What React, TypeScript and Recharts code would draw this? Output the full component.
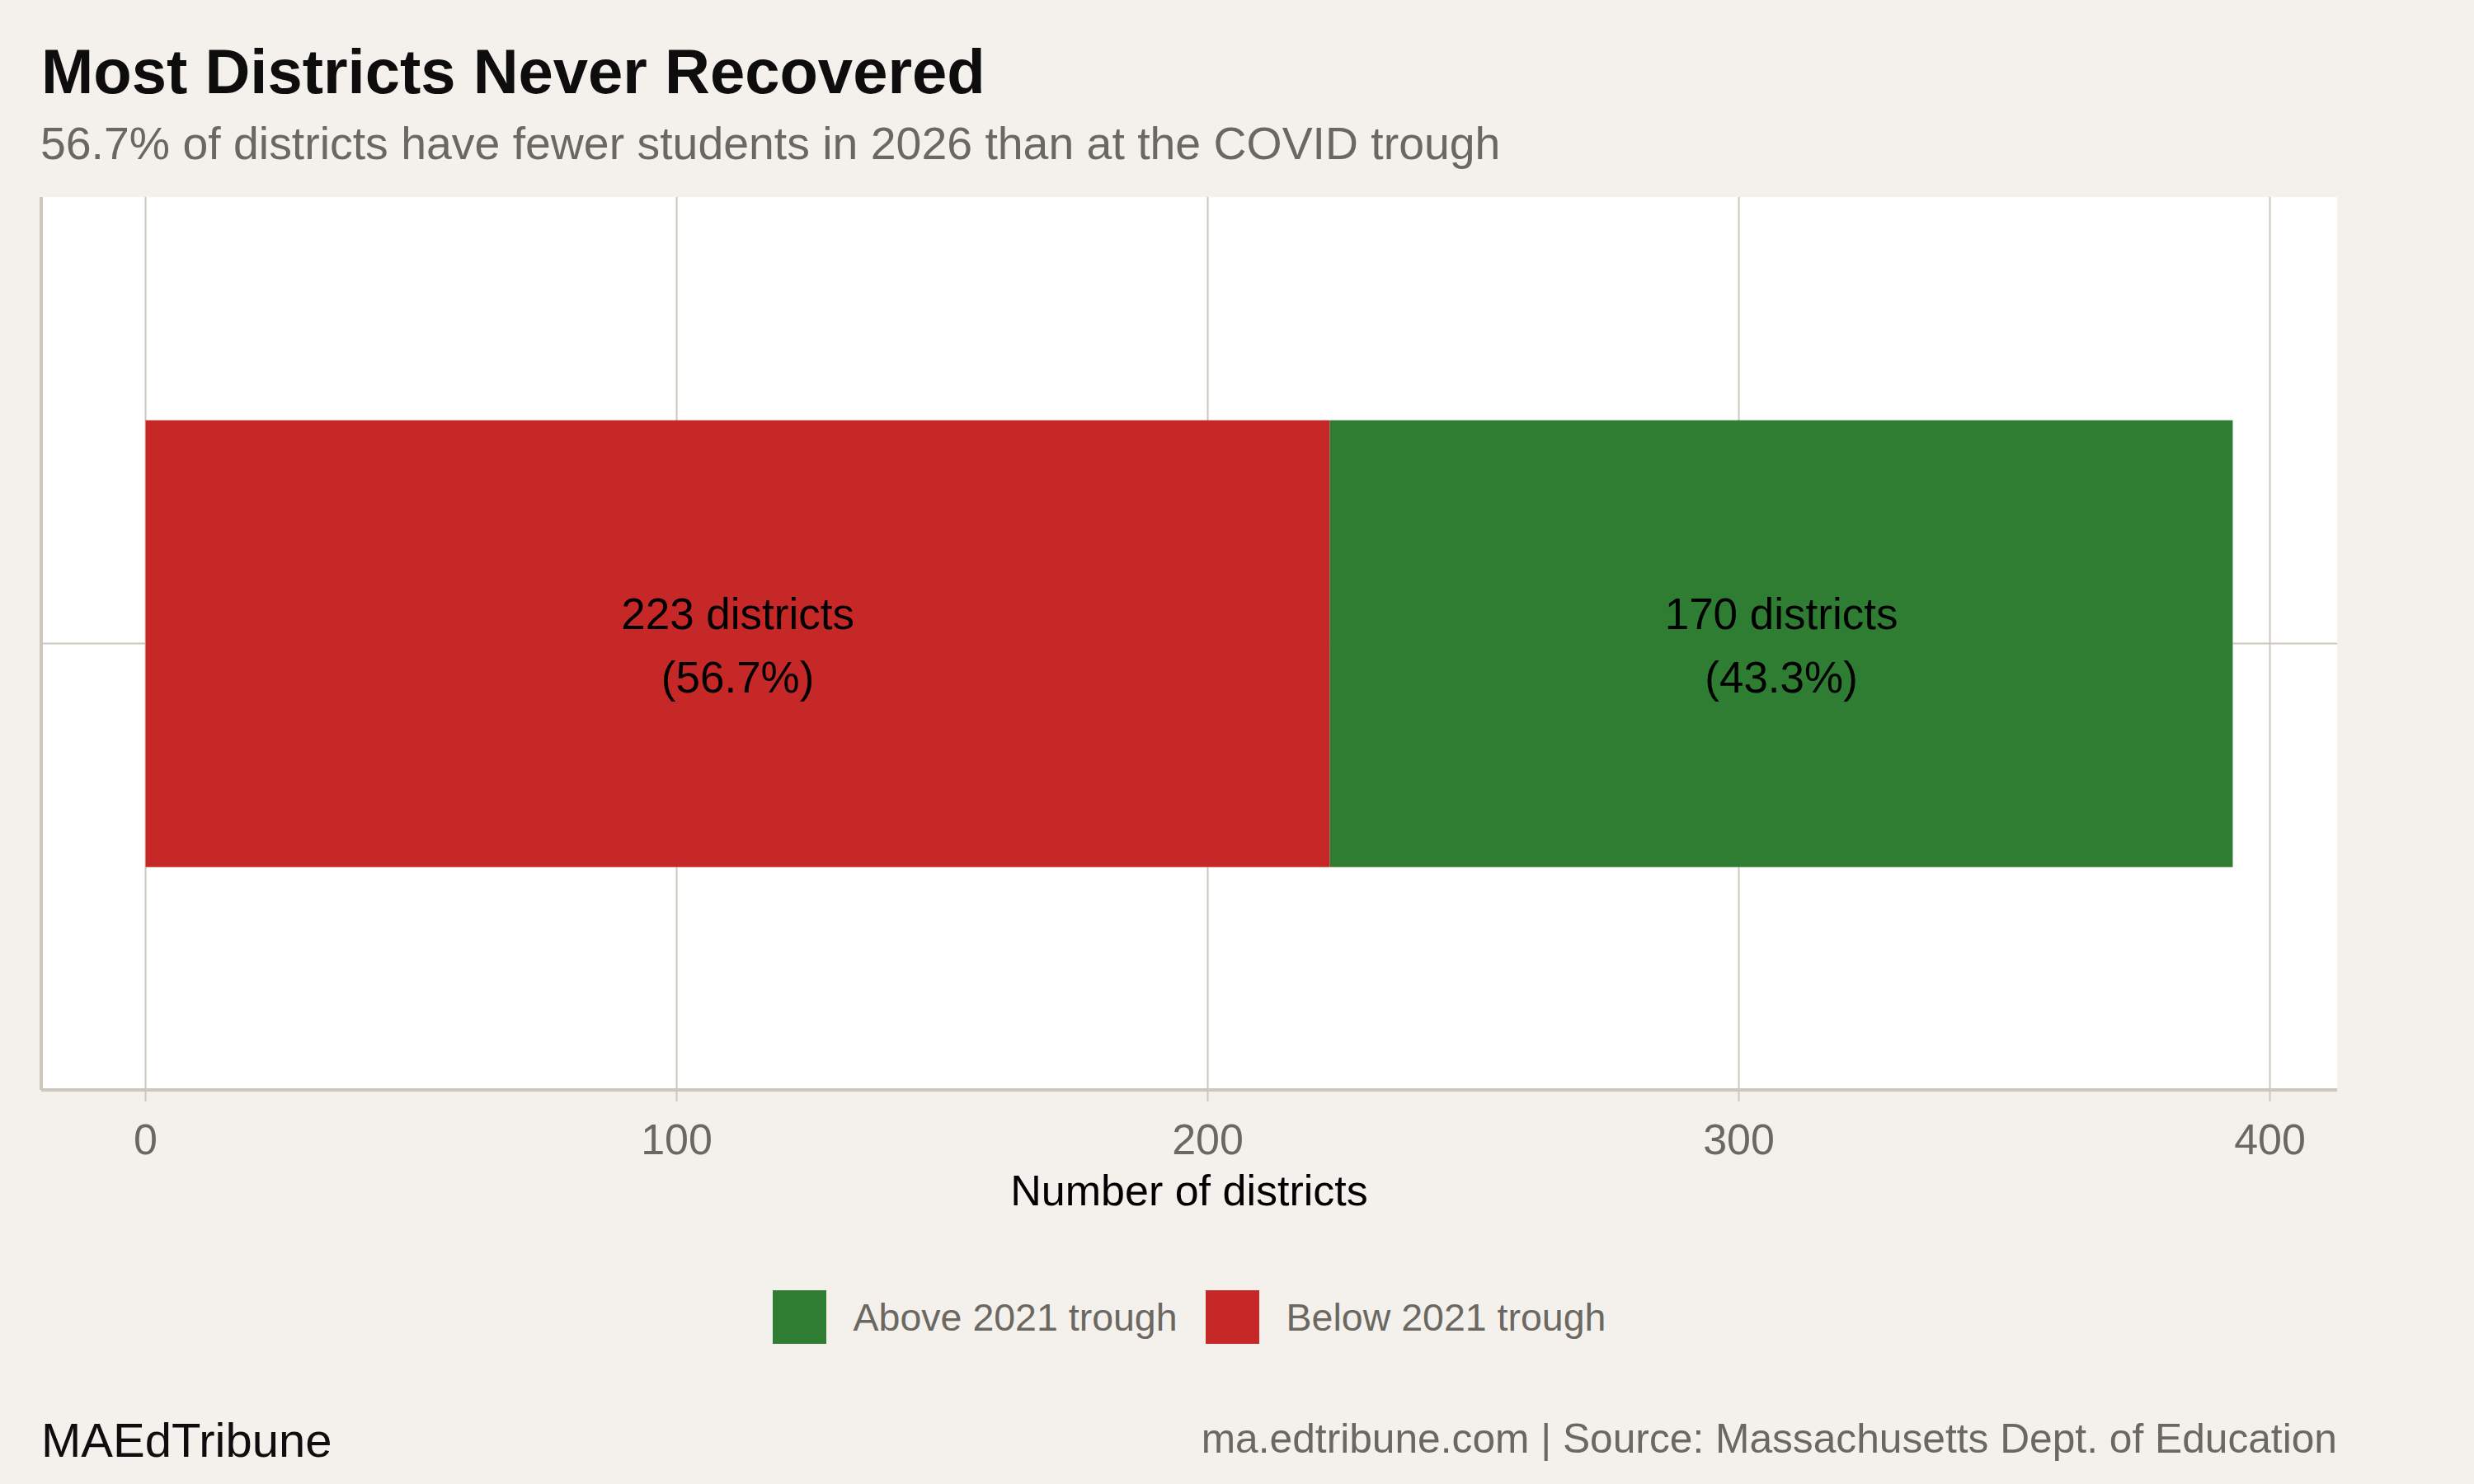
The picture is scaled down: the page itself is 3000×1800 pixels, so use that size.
import { Bar, BarChart, CartesianGrid, LabelList, Legend, XAxis, YAxis } from 'recharts';

const CATEGORIES = ['All districts'];
const BELOW_TROUGH = [223];
const ABOVE_TROUGH = [170];
const X_TICKS = [0, 100, 200, 300, 400];

const SERIES_NAMES: Record<string, string> = {
  above: 'Above 2021 trough',
  below: 'Below 2021 trough',
};
const LEGEND_ORDER = ['above', 'below'];

const COLORS: Record<string, string> = {
  above: '#2e7d32',
  below: '#c62828',
};

const FONT = "'Liberation Sans', Arial, Helvetica, sans-serif";
const BG = '#f4f1ec';
const GRID = '#cdc7bd';
const GRAY = '#6b6862';

const data = CATEGORIES.map((category, i) => ({
  category,
  below: BELOW_TROUGH[i],
  above: ABOVE_TROUGH[i],
  total: BELOW_TROUGH[i] + ABOVE_TROUGH[i],
}));

// ggplot-style 5% padding on both ends
const maxTotal = Math.max(...data.map((d) => d.total));
const X_DOMAIN = [-0.05 * maxTotal, 1.05 * maxTotal];

function renderBarLabel(props: any) {
  const { x, y, width, height, value, index } = props;
  const total = data[index]?.total ?? 1;
  const cx = x + width / 2;
  const cy = y + height / 2;
  const pct = ((value / total) * 100).toFixed(1);
  return (
    <text textAnchor="middle" fontSize={53} fontFamily={FONT} fill="#000">
      <tspan x={cx} y={cy - 18}>{value} districts</tspan>
      <tspan x={cx} y={cy + 59}>({pct}%)</tspan>
    </text>
  );
}

function renderLegend() {
  return (
    <div style={{ display: 'flex', justifyContent: 'center', alignItems: 'center', height: 65, fontFamily: FONT, fontSize: 46.5, color: GRAY }}>
      {LEGEND_ORDER.map((key, i) => (
        <div key={key} style={{ display: 'flex', alignItems: 'center', marginLeft: i === 0 ? 0 : 34 }}>
          <span style={{ display: 'inline-block', width: 65, height: 65, background: COLORS[key], marginRight: 33 }} />
          <span>{SERIES_NAMES[key]}</span>
        </div>
      ))}
    </div>
  );
}

// horizontal grid line through the middle of each category band
function horizontalLines(props: any) {
  const off = props?.offset;
  if (!off) return [];
  const band = off.height / CATEGORIES.length;
  return CATEGORIES.map((_, i) => off.top + band * (i + 0.5));
}

export default function App() {
  return (
    <div style={{ position: 'absolute', left: 0, top: 0, width: 3000, height: 1800, background: BG }}>
      <BarChart
        width={3000}
        height={1800}
        data={data}
        layout="vertical"
        margin={{ top: 239, right: 166, bottom: 318, left: 0 }}
        barCategoryGap="25%"
      >
        <CartesianGrid
          fill="#ffffff"
          stroke={GRID}
          strokeWidth={2}
          horizontalCoordinatesGenerator={horizontalLines}
          verticalValues={X_TICKS}
        />
        <XAxis
          type="number"
          domain={X_DOMAIN}
          ticks={X_TICKS}
          allowDataOverflow
          height={160}
          tickSize={14}
          tickMargin={27}
          tick={{ fontSize: 52, fill: GRAY, fontFamily: FONT }}
          axisLine={{ stroke: GRID, strokeWidth: 4 }}
          tickLine={{ stroke: GRID, strokeWidth: 2 }}
          label={{ value: 'Number of districts', position: 'insideTop', offset: 103, fill: '#000', fontSize: 52, fontFamily: FONT }}
        />
        <YAxis
          type="category"
          dataKey="category"
          width={50}
          tick={false}
          tickLine={false}
          axisLine={{ stroke: GRID, strokeWidth: 4 }}
        />
        <Legend
          content={renderLegend}
          layout="horizontal"
          verticalAlign="middle"
          align="center"
          wrapperStyle={{ top: 1565, left: 0, width: 2884, height: 65 }}
        />
        <Bar dataKey="below" name={SERIES_NAMES.below} stackId="a" fill={COLORS.below} isAnimationActive={false}>
          <LabelList dataKey="below" content={renderBarLabel} />
        </Bar>
        <Bar dataKey="above" name={SERIES_NAMES.above} stackId="a" fill={COLORS.above} isAnimationActive={false}>
          <LabelList dataKey="above" content={renderBarLabel} />
        </Bar>
      </BarChart>
      <svg width={3000} height={1800} style={{ position: 'absolute', left: 0, top: 0, pointerEvents: 'none' }}>
        <text x={50} y={113} fontSize={76} fontWeight="bold" fontFamily={FONT} fill="#0d0d0d">
          Most Districts Never Recovered
        </text>
        <text x={49} y={193} fontSize={55.4} fontFamily={FONT} fill={GRAY}>
          56.7% of districts have fewer students in 2026 than at the COVID trough
        </text>
        <text x={50} y={1767} fontSize={58} fontFamily={FONT} fill="#0d0d0d">
          MAEdTribune
        </text>
        <text x={2834} y={1762} fontSize={49.7} fontFamily={FONT} fill={GRAY} textAnchor="end">
          ma.edtribune.com | Source: Massachusetts Dept. of Education
        </text>
      </svg>
    </div>
  );
}
